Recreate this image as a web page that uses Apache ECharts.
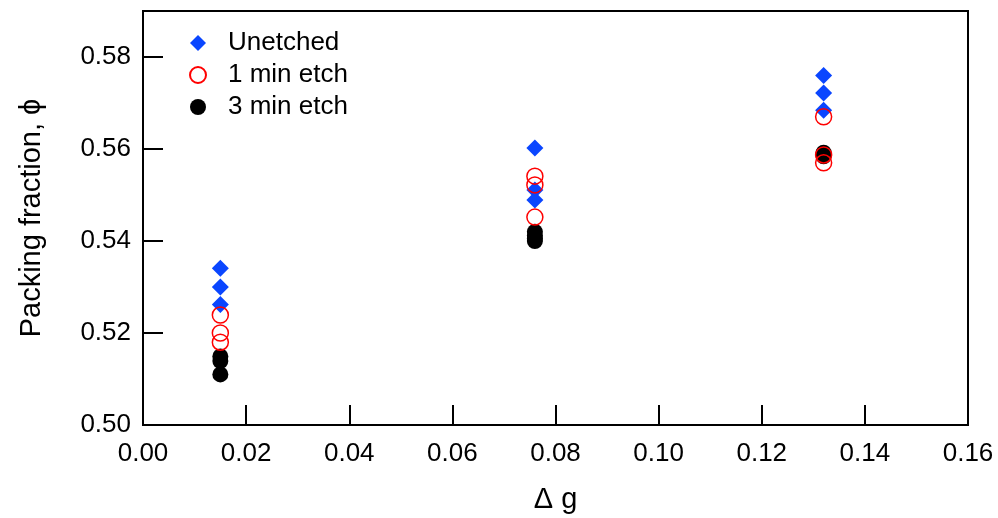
<!DOCTYPE html>
<html>
<head>
<meta charset="utf-8">
<script src="https://cdn.jsdelivr.net/npm/echarts@6/dist/echarts.min.js"></script>
<style>html,body{margin:0;padding:0;background:#fff;}#c{width:998px;height:518px;}</style>
</head>
<body>
<div id="c"></div>
<script>
var seriesNames = ['Unetched', '1 min etch', '3 min etch'];
var unetched = [[0.015,0.5341],[0.015,0.5300],[0.015,0.5262],[0.076,0.5602],[0.076,0.5511],[0.076,0.5489],[0.132,0.5760],[0.132,0.5722],[0.132,0.5684]];
var etch1 = [[0.015,0.5239],[0.015,0.5200],[0.015,0.5180],[0.076,0.5541],[0.076,0.5522],[0.076,0.5452],[0.132,0.5670],[0.132,0.5587],[0.132,0.5570]];
var etch3 = [[0.015,0.5149],[0.015,0.5139],[0.015,0.5110],[0.076,0.5420],[0.076,0.5412],[0.076,0.5405],[0.076,0.5400],[0.132,0.5592],[0.132,0.5584]];
var xTitle = 'Δ g';
var yTitle = 'Packing fraction, ϕ';

var font = 'Liberation Sans, Arial, sans-serif';
var chart = echarts.init(document.getElementById('c'));
chart.setOption({
  animation: false,
  backgroundColor: '#fff',
  grid: {left: 143, right: 30, top: 11, bottom: 93, show: true, borderColor: '#000', borderWidth: 2, backgroundColor: 'transparent', containLabel: false, outerBoundsMode: 'none'},
  legend: {
    orient: 'vertical', left: 184, top: 25, itemWidth: 16, itemHeight: 16, itemGap: 6,
    data: [seriesNames[0], seriesNames[1], seriesNames[2]],
    textStyle: {fontFamily: font, fontSize: 26, color: '#000', padding: [0,0,0,17]}
  },
  xAxis: {
    type: 'value', min: 0, max: 0.16, interval: 0.02,
    name: xTitle, nameLocation: 'middle', nameGap: 60,
    nameTextStyle: {fontFamily: font, fontSize: 29, color: '#000'},
    axisLine: {lineStyle: {color: '#000', width: 2}},
    axisTick: {inside: true, length: 20, lineStyle: {color: '#000', width: 2}},
    axisLabel: {fontFamily: font, fontSize: 26, color: '#000', margin: 16, formatter: function(v){return v.toFixed(2);}},
    splitLine: {show: false}
  },
  yAxis: {
    type: 'value', min: 0.50, max: 0.59, interval: 0.02,
    name: yTitle, nameLocation: 'middle', nameGap: 97,
    nameTextStyle: {fontFamily: font, fontSize: 29, color: '#000'},
    axisLine: {lineStyle: {color: '#000', width: 2}},
    axisTick: {inside: true, length: 20, lineStyle: {color: '#000', width: 2}},
    axisLabel: {fontFamily: font, fontSize: 26, color: '#000', margin: 12, showMaxLabel: false, formatter: function(v){return v.toFixed(2);}},
    splitLine: {show: false}
  },
  series: [
    {name: seriesNames[0], type: 'scatter', symbol: 'diamond', symbolSize: 17, data: unetched,
      itemStyle: {color: '#0a46ff', opacity: 1}},
    {name: seriesNames[2], type: 'scatter', symbol: 'circle', symbolSize: 16, data: etch3,
      itemStyle: {color: '#000', opacity: 1}},
    {name: seriesNames[1], type: 'scatter', symbol: 'circle', symbolSize: 16, data: etch1,
      itemStyle: {color: 'rgba(255,255,255,0)', borderColor: '#ff0000', borderWidth: 1.5, opacity: 1}}
  ]
});
</script>
</body>
</html>
